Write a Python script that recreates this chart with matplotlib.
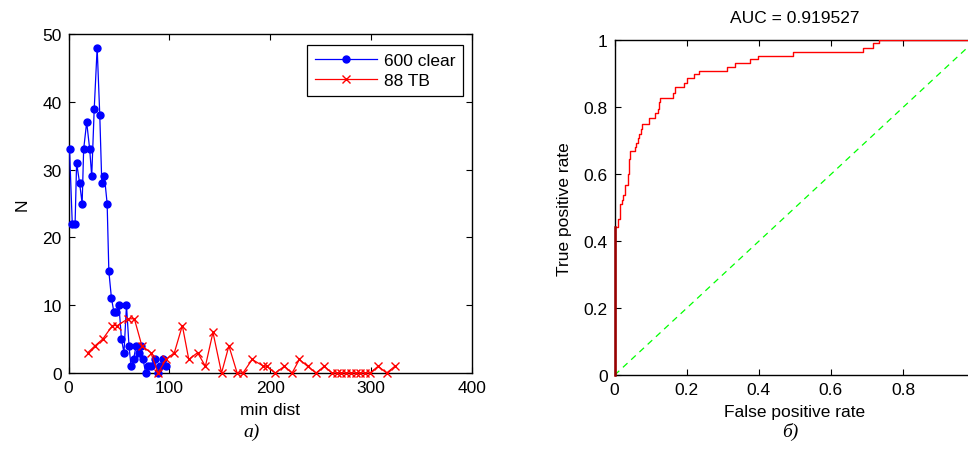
import matplotlib
matplotlib.use('Agg')
import matplotlib.pyplot as plt
from matplotlib.ticker import MultipleLocator, FuncFormatter

plt.rcParams['font.family'] = ['Liberation Sans', 'DejaVu Sans']

# гистограмма минимальных расстояний, 600 clear
clear_x = [1, 3.7, 6.5, 8, 11, 13.5, 15, 18, 21, 23, 25.5, 28.4, 31, 33, 35.6, 38.3,
           40, 42.6, 45, 47.5, 50, 52.5, 55, 57.5, 60, 62, 64.5, 67, 69.5, 71.5, 74,
           76.5, 79, 81.5, 85.5, 88.4, 91, 93.7, 97]
clear_n = [33, 22, 22, 31, 28, 25, 33, 37, 33, 29, 39, 48, 38, 28, 29, 25,
           15, 11, 9, 9, 10, 5, 3, 10, 4, 1, 2, 4, 3, 4, 2,
           0, 1, 1, 2, 0, 1, 2, 1]

# 88 TB
tb_x = [19.1, 26.2, 33.9, 43.6, 48.5, 58.9, 65.3, 72.8, 81.7, 88.8, 96.7, 105, 112.9,
        119.3, 128, 135.8, 143.3, 151.8, 159.1, 167.3, 173, 182.2, 193.4, 196.7, 205,
        214.2, 221.8, 229, 237.1, 245.5, 253.7, 261.4, 266, 270.3, 275.2, 280.2,
        284.9, 289.1, 294, 299, 307.2, 315.5, 323.8]
tb_n = [3, 4, 5, 7, 7, 8, 8, 4, 3, 0, 2, 3, 7,
        2, 3, 1, 6, 0, 4, 0, 0, 2, 1, 1, 0,
        1, 0, 2, 1, 0, 1, 0, 0, 0, 0, 0,
        0, 0, 0, 0, 1, 0, 1]

# ROC кривая (ступени)
roc_fpr = [0, 0, 0.009, 0.014, 0.019, 0.024, 0.028, 0.036, 0.040, 0.043, 0.055, 0.059,
           0.064, 0.068, 0.072, 0.075, 0.095, 0.111, 0.119, 0.122, 0.126, 0.162, 0.166,
           0.191, 0.201, 0.219, 0.234, 0.311, 0.335, 0.375, 0.399, 0.495, 0.688, 0.717,
           0.733, 1.0]
roc_tpr = [0, 0.443, 0.466, 0.510, 0.523, 0.538, 0.568, 0.600, 0.647, 0.670, 0.683, 0.695,
           0.709, 0.719, 0.736, 0.749, 0.769, 0.784, 0.794, 0.816, 0.829, 0.844, 0.862,
           0.874, 0.887, 0.899, 0.908, 0.920, 0.933, 0.945, 0.953, 0.965, 0.978, 0.993,
           1.0, 1.0]
auc = 0.919527

fs = 12.5

fig = plt.figure(figsize=(9.68, 4.56), dpi=100)

# ---- левый график
ax1 = fig.add_axes([0.0708, 0.1798, 0.4165, 0.7434])
ax1.plot(clear_x, clear_n, color='#0000ff', lw=0.9, marker='o', markersize=5,
         label='600 clear', clip_on=False, zorder=3)
ax1.plot(tb_x, tb_n, color='#ff0000', lw=0.9, marker='x', markersize=5.5, mew=1,
         label='88 TB', clip_on=False, zorder=3)
ax1.set_xlim(0, 400)
ax1.set_ylim(0, 50)
ax1.xaxis.set_major_locator(MultipleLocator(100))
ax1.yaxis.set_major_locator(MultipleLocator(10))
ax1.set_xlabel('min dist', fontsize=fs, labelpad=5)
ax1.set_ylabel('N', fontsize=fs, labelpad=9)

lgnd = ax1.legend(loc='upper right', bbox_to_anchor=(0.978, 0.9676), borderaxespad=0,
                  fontsize=fs, fancybox=False, framealpha=1, edgecolor='black',
                  handlelength=3.6, handletextpad=0.35, borderpad=0.45, labelspacing=0.3)
lgnd.get_frame().set_linewidth(0.9)

# ---- правый график
ax2 = fig.add_axes([0.635, 0.1754, 0.3723, 0.7336])
ax2.plot([0, 1], [0, 1], color='#00ff00', lw=0.9, linestyle=(0, (5, 4)))
ax2.step(roc_fpr, roc_tpr, where='post', color='#ff0000', lw=1.0, zorder=3)
ax2.plot([0, 0], [0, roc_tpr[1]], color='#990000', lw=1.8, zorder=4, clip_on=False)
ax2.set_xlim(0, 1)
ax2.set_ylim(0, 1)
ax2.xaxis.set_major_locator(MultipleLocator(0.2))
ax2.yaxis.set_major_locator(MultipleLocator(0.2))
# подпись "1" на оси x уходит за край картинки, как в оригинале
ax2.xaxis.set_major_formatter(FuncFormatter(lambda v, p: '' if v > 0.99 else '%g' % round(v, 2)))
ax2.yaxis.set_major_formatter(FuncFormatter(lambda v, p: '%g' % round(v, 2)))
ax2.set_xlabel('False positive rate', fontsize=fs, labelpad=5)
ax2.set_ylabel('True positive rate', fontsize=fs, labelpad=8)
ax2.set_title('AUC = %g' % auc, fontsize=fs, pad=13)

for ax in (ax1, ax2):
    ax.tick_params(axis='both', which='both', direction='in', top=True, right=True,
                   labelsize=fs, length=4, width=0.8, pad=5)
    for s in ax.spines.values():
        s.set_linewidth(1.0)
        s.set_color('black')

# подписи а) и б)
fig.text(252 / 968, 1 - 432 / 456, 'а)', fontsize=14, style='italic',
         family='Liberation Serif', ha='center', va='center')
fig.text(790 / 968, 1 - 432 / 456, 'б)', fontsize=14, style='italic',
         family='Liberation Serif', ha='center', va='center')

plt.savefig('out.png', dpi=100)
plt.close()
